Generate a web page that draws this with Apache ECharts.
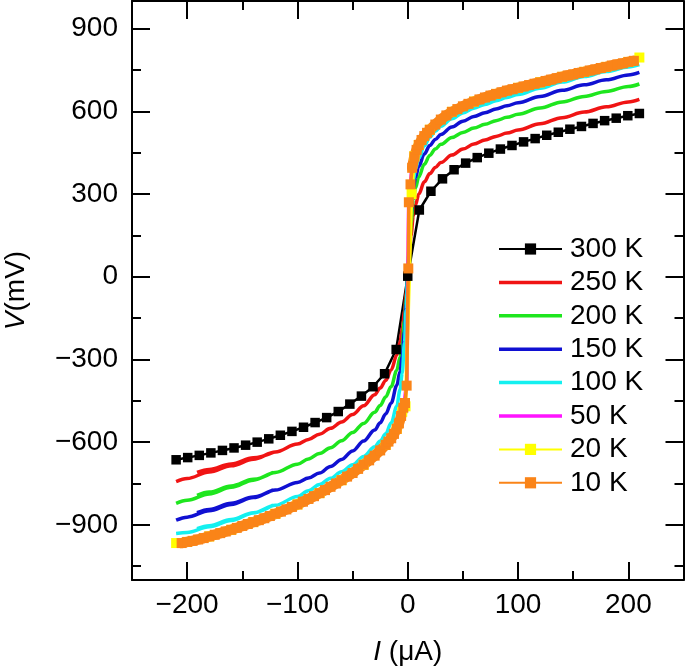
<!DOCTYPE html>
<html><head><meta charset="utf-8">
<script src="https://cdn.jsdelivr.net/npm/echarts@6/dist/echarts.min.js"></script>
<style>html,body{margin:0;padding:0;background:#fff}#c{width:685px;height:671px}</style>
</head><body><div id="c"></div>
<script>
// ---- tick values ----
const X_MAJOR = [-200, -100, 0, 100, 200];
const X_MINOR = [-150, -50, 50, 150];
const Y_MAJOR = [-900, -600, -300, 0, 300, 600, 900];
const Y_MINOR = [-1050, -750, -450, -150, 150, 450, 750];

const NAMES = ['300 K', '250 K', '200 K', '150 K', '100 K', '50 K', '20 K', '10 K'];
const COLORS = ['#000000', '#f01414', '#1ee61e', '#1010d2', '#14f0f0', '#ff14ff', '#ffff00', '#fa8418'];

// ---- 300 K (markers) ----
const I_300 = [-210,-199.5,-189,-178.5,-168,-157.5,-147,-136.5,-126,-115.5,-105,-94.5,-84,-73.5,-63,-52.5,-42,-31.5,-21,-10.5,0,
  10.5,21,31.5,42,52.5,63,73.5,84,94.5,105,115.5,126,136.5,147,157.5,168,178.5,189,199.5,210];
const V_300 = [-664,-656,-648,-639,-630,-621,-611,-600,-588,-575,-561,-546,-529,-511,-489,-462,-433,-399,-352,-264,2,
  242,310,355,388,412,432,448,463,476,489,501,513,524,535,545,556,566,575,584,592];

// common current grid for line-only curves
const I_LINE = [-210,-200,-180,-160,-140,-120,-100,-90,-80,-70,-60,-50,-40,-30,-25,-20,-15,-10,-7,-5,-3,-1.5,0,
  1.5,3,5,7,10,15,20,25,30,40,50,60,70,80,90,100,120,140,160,180,200,210];
const V_250 = [-743,-732,-708,-686,-662,-636,-607,-590,-571,-550,-527,-500,-468,-428,-404,-376,-338,-285,-238,-192,-125,-62,0,
  80,150,220,260,300,344,374,396,414,441,463,481,496,509,521,532,555,577,597,616,634,643];
const V_200 = [-822,-811,-788,-764,-738,-710,-680,-661,-641,-620,-595,-565,-532,-492,-467,-436,-398,-340,-292,-245,-160,-82,0,
  100,195,280,322,362,408,440,463,480,505,523,539,553,566,578,589,612,634,654,672,690,699];
const V_150 = [-883,-872,-849,-826,-801,-774,-746,-730,-712,-688,-663,-632,-596,-556,-530,-498,-458,-395,-345,-290,-200,-100,0,
  120,230,320,360,400,445,476,498,516,543,564,581,595,608,620,631,654,676,696,714,732,741];
const V_100 = [-931,-928,-907,-884,-857,-829,-797,-776,-754,-731,-707,-682,-652,-617,-596,-570,-530,-470,-410,-350,-240,-120,0,
  140,260,350,390,430,475,506,528,546,573,594,611,625,638,650,661,684,706,726,744,761,769];

// second (return-sweep) branches on the negative side
const I_BR = [-191,-180,-160,-140,-122];
const V_250_BR = [-710,-699,-679,-657,-637];
const V_200_BR = [-793,-781,-759,-735,-709];
const V_150_BR = [-856,-844,-822,-799,-773];
const V_100_BR = [-914,-903,-881,-856,-828];

// ---- 50 K ----
const I_50 = [-205,-180,-160,-140,-120,-100,-80,-60,-40,-20,-10,-4,-1,1,4,10,20,40,60,80,100,120,140,160,180,205];
const V_50 = [-966,-942,-918,-890,-860,-826,-785,-738,-682,-610,-552,-475,-395,270,395,478,533,598,635,663,685,705,725,743,761,783];

// ---- 20 K (markers) ----
const I_20 = [-210,-200,-180,-160,-140,-120,-100,-80,-60,-40,-20,-10,-5,-2,3.5,6,10,20,40,60,80,100,120,140,160,180,200,210];
const V_20 = [-966,-962,-942,-918,-890,-860,-826,-785,-738,-682,-610,-552,-490,-470,300,438,478,533,598,635,663,685,705,725,743,761,779,795];

// ---- 10 K (dense markers) ----
const I_10 = [-205,-200,-195,-190,-185,-180,-175,-170,-165,-160,-155,-150,-145,-140,-135,-130,-125,-120,-115,-110,-105,-100,
  -95,-90,-85,-80,-75,-70,-65,-60,-55,-50,-45,-40,-35,-30,-25,-20,-17.5,-15,-12.5,-10,-8,-6,-4,-2.5,-1,
  0.5,1,2.5,4,6,8,10,12.5,15,17.5,20,25,30,35,40,45,50,55,60,65,70,75,80,85,90,95,100,
  105,110,115,120,125,130,135,140,145,150,155,160,165,170,175,180,185,190,195,200,205];
const V_10 = [-966,-962,-958,-953,-948,-942,-936,-930,-924,-918,-911,-904,-897,-890,-883,-876,-868,-860,-852,-844,-835,-826,
  -816,-806,-796,-785,-774,-762,-750,-738,-725,-712,-697,-682,-666,-649,-630,-610,-598,-586,-570,-552,-532,-505,-475,-458,-395,
  30,270,335,395,436,460,478,496,510,522,533,552,570,585,598,608,618,627,635,643,650,657,663,669,675,680,685,
  690,695,700,705,710,715,720,725,730,734,739,743,748,752,757,761,766,770,774,779,783];

function zip(a, b) { return a.map((x, i) => [x, b[i]]); }
function withBranch(a, b, ba, bb) { return zip(a, b).concat([null]).concat(zip(ba, bb)); }
// thick band under the dense 10 K markers (same points, split at the near-vertical part)
function bandData(a, b) {
  const neg = [], pos = [];
  for (let i = 0; i < a.length; i++) {
    if (a[i] <= -4) neg.push([a[i], b[i]]);
    else if (a[i] >= 4) pos.push([a[i], b[i]]);
  }
  return neg.concat([null]).concat(pos);
}

const FONT = '"Liberation Sans", Arial, Helvetica, sans-serif';
const FS = 28;
const AX = { color: '#000', width: 2 };
function fmt(v) { return v < 0 ? '\u2212' + Math.abs(v) : String(v); }
const labelStyle = { fontSize: FS, fontFamily: FONT, color: '#000' };
const nameStyle = { fontSize: FS, fontFamily: FONT, color: '#000',
  rich: { i: { fontSize: FS, fontFamily: FONT, fontStyle: 'italic', color: '#000' } } };

function xAx(pos, major, withLine, withLabel) {
  const o = {
    type: 'value', min: -250, max: 250, position: pos, offset: 0,
    axisLine: { show: withLine, onZero: false, lineStyle: AX },
    axisTick: { show: true, inside: true, length: major ? 18 : 9, customValues: major ? X_MAJOR : X_MINOR, lineStyle: AX },
    axisLabel: withLabel ? Object.assign({ show: true, customValues: X_MAJOR, formatter: fmt, margin: 11 }, labelStyle) : { show: false },
    splitLine: { show: false }
  };
  if (withLabel) {
    o.name = '{i|I} (\u03BCA)'; o.nameLocation = 'middle'; o.nameGap = 58; o.nameTextStyle = nameStyle; o.nameMoveOverlap = false;
  }
  return o;
}
function yAx(pos, major, withLine, withLabel) {
  const o = {
    type: 'value', min: -1100, max: 1000, position: pos, offset: 0,
    axisLine: { show: withLine, onZero: false, lineStyle: AX },
    axisTick: { show: true, inside: true, length: major ? 18 : 9, customValues: major ? Y_MAJOR : Y_MINOR, lineStyle: AX },
    axisLabel: withLabel ? Object.assign({ show: true, customValues: Y_MAJOR, formatter: fmt, margin: 14 }, labelStyle) : { show: false },
    splitLine: { show: false }
  };
  if (withLabel) {
    o.name = '{i|V}(mV)'; o.nameLocation = 'middle'; o.nameGap = 102; o.nameTextStyle = nameStyle; o.nameMoveOverlap = false;
  }
  return o;
}

const lineSeries = (idx, data) => ({
  name: NAMES[idx], type: 'line', data: data, symbol: 'none', smooth: 0.35, smoothMonotone: 'x',
  lineStyle: { color: COLORS[idx], width: 3.5 }, itemStyle: { color: COLORS[idx] }, connectNulls: false
});
const markSeries = (idx, data, size, lw) => ({
  name: NAMES[idx], type: 'line', data: data, symbol: 'rect', symbolSize: size, showSymbol: true,
  lineStyle: { color: COLORS[idx], width: lw }, itemStyle: { color: COLORS[idx] }
});

// legend icon for plain lines: a 63 x 3.5 bar inside a 63 x 14 box
const LINE_ICON = 'path://M0,0 M63,14 M0,5.25 L63,5.25 L63,8.75 L0,8.75 Z';
const legendData = NAMES.map((n, i) => ([1, 2, 3, 4, 5].indexOf(i) >= 0 ? { name: n, icon: LINE_ICON } : { name: n }));

const option = {
  animation: false,
  backgroundColor: '#fff',
  grid: { left: 132, right: 1.5, top: 1, bottom: 91, containLabel: false, outerBoundsMode: 'none' },
  xAxis: [xAx('bottom', true, true, true), xAx('bottom', false, false, false), xAx('top', true, true, false), xAx('top', false, false, false)],
  yAxis: [yAx('left', true, true, true), yAx('left', false, false, false), yAx('right', true, true, false), yAx('right', false, false, false)],
  legend: {
    orient: 'vertical', left: 493, top: 230, itemWidth: 63, itemHeight: 14, itemGap: 5.4,
    data: legendData, textStyle: { fontSize: FS, fontFamily: FONT, color: '#000', lineHeight: 28, padding: [0, 0, 0, 3] }
  },
  series: [
    markSeries(0, zip(I_300, V_300), 9.5, 2.5),
    lineSeries(1, withBranch(I_LINE, V_250, I_BR, V_250_BR)),
    lineSeries(2, withBranch(I_LINE, V_200, I_BR, V_200_BR)),
    lineSeries(3, withBranch(I_LINE, V_150, I_BR, V_150_BR)),
    lineSeries(4, withBranch(I_LINE, V_100, I_BR, V_100_BR)),
    lineSeries(5, zip(I_50, V_50)),
    markSeries(6, zip(I_20, V_20), 10, 3.5),
    { name: '10 K band', type: 'line', data: bandData(I_10, V_10), symbol: 'none', showSymbol: false, connectNulls: false,
      lineStyle: { color: COLORS[7], width: 10.5, join: 'round', cap: 'round' }, itemStyle: { color: COLORS[7] } },
    markSeries(7, zip(I_10, V_10), 10, 3.5)
  ]
};
const chart = echarts.init(document.getElementById('c'), null, { renderer: 'canvas' });
chart.setOption(option);
</script></body></html>
